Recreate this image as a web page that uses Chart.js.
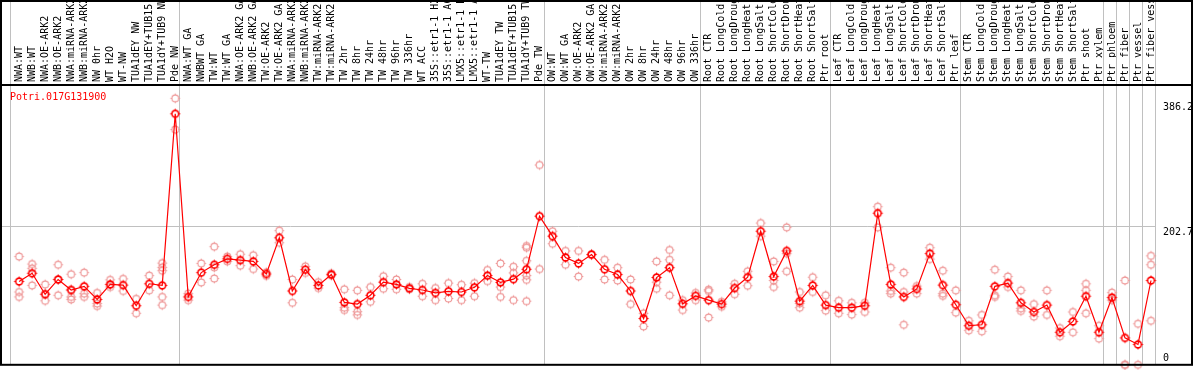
<!DOCTYPE html>
<html><head><meta charset="utf-8">
<style>html,body{margin:0;padding:0;background:#fff;}canvas{display:block;}</style>
<script src="https://cdn.jsdelivr.net/npm/chart.js@4.4.1/dist/chart.umd.min.js"></script>
</head><body>
<canvas id="c" width="1194" height="370"></canvas>
<script>
const geneLabel = 'Potri.017G131900';

const categories = [
  'NWA:WT','NWB:WT','NWA:OE-ARK2','NWB:OE-ARK2','NWA:miRNA-ARK2','NWB:miRNA-ARK2','NW 0hr','WT H2O','WT-NW','TUA1dEY NW','TUA1dEY+TUB15 NW','TUA1dY+TUB9 NW','Pde NW',
  'NWA:WT GA','NWBWT GA','TW:WT','TW:WT GA','NWA:OE-ARK2 GA','NWB:OE-ARK2 GA','TW:OE-ARK2','TW:OE-ARK2 GA','NWA:miRNA-ARK2','NWB:miRNA-ARK2','TW:miRNA-ARK2','TW:miRNA-ARK2','TW 2hr','TW 8hr','TW 24hr','TW 48hr','TW 96hr','TW 336hr','WT ACC','35S::etr1-1 H2O','35S::etr1-1 ACC','LMX5::etr1-1 H2O','LMX5::etr1-1 ACC','WT-TW','TUA1dEY TW','TUA1dEY+TUB15 TW','TUA1dY+TUB9 TW','Pde TW',
  'OW:WT','OW:WT GA','OW:OE-ARK2','OW:OE-ARK2 GA','OW:miRNA-ARK2','OW:miRNA-ARK2','OW 2hr','OW 8hr','OW 24hr','OW 48hr','OW 96hr','OW 336hr',
  'Root CTR','Root LongCold','Root LongDrought','Root LongHeat','Root LongSalt','Root ShortCold','Root ShortDrought','Root ShortHeat','Root ShortSalt','Ptr root',
  'Leaf CTR','Leaf LongCold','Leaf LongDrought','Leaf LongHeat','Leaf LongSalt','Leaf ShortCold','Leaf ShortDrought','Leaf ShortHeat','Leaf ShortSalt','Ptr leaf',
  'Stem CTR','Stem LongCold','Stem LongDrought','Stem LongHeat','Stem LongSalt','Stem ShortCold','Stem ShortDrought','Stem ShortHeat','Stem ShortSalt','Ptr shoot','Ptr xylem',
  'Ptr phloem','Ptr fiber','Ptr vessel','Ptr fiber vessel'
];

const groupSizes = [13, 28, 12, 10, 10, 11, 1, 1, 1, 1];

const means = [
  122.0, 134.0, 103.3, 124.9, 109.5, 114.8, 95.6, 117.7, 116.7, 86.5, 118.6, 116.2, 367.4,
  99.4, 135.0, 146.5, 155.1, 153.2, 151.3, 133.0, 185.9, 108.1, 139.3, 116.2, 132.1, 91.3, 88.9, 101.8, 121.0, 117.7, 111.9, 109.5, 105.2, 107.6, 106.6, 113.4, 130.6, 120.6, 125.4, 139.8, 217.6,
  188.3, 157.1, 148.4, 161.4, 139.8, 132.1, 108.1, 67.7, 127.8, 142.2, 89.3, 100.9,
  94.6, 88.9, 112.4, 128.2, 195.5, 129.2, 166.7, 93.2, 116.2, 87.4,
  83.6, 83.6, 86.5, 221.9, 117.7, 99.4, 111.0, 162.8, 116.7, 87.9,
  57.2, 58.6, 114.8, 119.6, 90.8, 77.3, 87.4, 47.6, 63.4, 100.4, 47.6,
  98.5, 39.4, 29.8, 123.4
];

const replicates = [
  [158.5,106.6,99.4],[147.5,141.2,116.2],[117.7,93.7,103.3],[146.5,101.8,124.9],[132.6,99.4,95.6,109.5],[135.0,104.2,99.4],[105.2,89.8,86.0],[124.4,113.8,117.7],[125.8,108.1],[96.5,75.4],[130.6,109.0],[148.9,142.6,137.8,99.4,87.4],[390.0,344.4],
  [104.2,94.6],[148.4,120.6],[172.9,142.6,126.3],[158.5,151.3],[161.9,145.1],[160.4,140.2],[135.4,130.2],[196.4,178.7],[124.9,90.8],[144.1,134.5],[121.0,112.4],[134.0,130.6],[110.5,83.6,80.2],[109.0,77.8,73.0],[113.8,92.2],[129.7,111.4],[124.9,110.5],[113.8,110.5],[118.6,100.4],[112.4,94.6],[119.6,97.0],[117.2,94.6],[119.6,100.4],[138.8,122.5],[148.4,113.8,99.4],[143.6,134.5,94.6],[173.9,171.5,152.3,130.6,124.4,93.2],[292.5,140.2],
  [195.5,177.2],[166.7,146.5],[166.7,129.2],[161.9,161.0],[153.7,124.9],[142.2,123.4],[124.9,88.9],[75.4,56.2],[151.3,121.0,111.4],[168.1,153.7,101.8],[94.6,80.2],[105.2,94.6],
  [110.0,108.1,69.2],[92.2,85.0],[118.6,103.3],[136.9,115.8],[207.5,188.3],[151.3,123.4,113.8],[201.2,162.8,136.9],[106.6,89.8,83.6],[128.2,106.6],[101.8,79.3],
  [93.7,75.4],[90.8,73.5],[90.8,77.3],[231.5,201.2],[142.2,108.1,104.2],[135.0,106.6,58.6],[115.3,104.2],[171.5,154.7],[137.8,104.2,100.9],[109.0,76.4],
  [64.4,50.4],[73.0,49.0],[139.3,101.8,99.4],[129.2,113.8],[109.0,82.6,78.8],[88.9,70.6],[109.0,73.0],[53.8,41.8],[77.3,47.6],[118.6,109.0,75.4],[57.2,38.4],
  [105.7,94.6],[123.4,0,0],[60.0,0],[159.5,146.5,64.4]
];

const yTicks = [0, 202.7, 386.2];
const yMax = 408.1;

function makeMarker(color, lw, r, tick) {
  const c = document.createElement('canvas');
  c.width = 13; c.height = 13;
  const g = c.getContext('2d');
  const m = 6.5;
  g.strokeStyle = color;
  g.lineWidth = lw;
  g.beginPath(); g.arc(m, m, r, 0, Math.PI * 2); g.stroke();
  g.lineWidth = 1;
  g.beginPath();
  g.moveTo(m, m - r - tick); g.lineTo(m, m - r);
  g.moveTo(m, m + r); g.lineTo(m, m + r + tick);
  g.moveTo(m - r - tick, m); g.lineTo(m - r, m);
  g.moveTo(m + r, m); g.lineTo(m + r + tick, m);
  g.stroke();
  return c;
}
const meanMarker = makeMarker('#ff0000', 1.6, 3.4, 1.6);
const repMarker = makeMarker('#ee9696', 1.1, 3.4, 1.4);

const meanData = means.map((v, i) => ({x: i, y: v}));
const repData = [];
replicates.forEach((arr, i) => arr.forEach(v => repData.push({x: i, y: v})));

const monoFont = {family: 'DejaVu Sans Mono', size: 10};

const framePlugin = {
  id: 'frame',
  beforeDatasetsDraw(chart) {
    const {ctx, chartArea, scales: {x, y}} = chart;
    const step = x.getPixelForValue(1) - x.getPixelForValue(0);
    const bounds = [0];
    let b = 0;
    groupSizes.forEach(s => { b += s; bounds.push(b); });
    ctx.save();
    ctx.strokeStyle = '#c0c0c0';
    ctx.lineWidth = 1;
    bounds.forEach(bi => {
      const px = Math.round(x.getPixelForValue(bi) - step * 9 / 13) + 0.5;
      ctx.beginPath(); ctx.moveTo(px, 0); ctx.lineTo(px, chartArea.bottom); ctx.stroke();
    });
    const gy = Math.round(y.getPixelForValue(yTicks[1])) + 0.5;
    const rightEnd = Math.round(x.getPixelForValue(categories.length) - step * 9 / 13) + 0.5;
    ctx.beginPath(); ctx.moveTo(2, gy); ctx.lineTo(rightEnd, gy); ctx.stroke();
    ctx.restore();
  },
  afterDraw(chart) {
    const {ctx, chartArea} = chart;
    ctx.save();
    ctx.strokeStyle = '#000';
    ctx.lineWidth = 2;
    ctx.strokeRect(1, 1, 1191, chartArea.bottom - 1);
    ctx.beginPath(); ctx.moveTo(0, chartArea.top - 1); ctx.lineTo(1192, chartArea.top - 1); ctx.stroke();
    ctx.fillStyle = '#ff0000';
    ctx.font = '10px "DejaVu Sans Mono"';
    ctx.textBaseline = 'middle';
    ctx.textAlign = 'left';
    ctx.fillText(geneLabel, 10, 97);
    ctx.restore();
  }
};

new Chart(document.getElementById('c'), {
  type: 'line',
  data: {
    datasets: [
      {label: geneLabel, data: meanData, borderColor: '#ff0000', borderWidth: 1.2, pointStyle: meanMarker, pointRadius: 4, tension: 0, order: 1, clip: false},
      {label: 'replicates', data: repData, showLine: false, pointStyle: repMarker, pointRadius: 4, order: 2, clip: false}
    ]
  },
  options: {
    responsive: false,
    animation: false,
    events: [],
    layout: {padding: {left: 12.6, right: 0, top: 0, bottom: 1}},
    plugins: {legend: {display: false}, tooltip: {enabled: false}},
    scales: {
      x: {
        type: 'linear', position: 'top', min: -0.5, max: categories.length - 0.5,
        grid: {display: false, drawTicks: false}, border: {display: false},
        afterBuildTicks: s => { s.ticks = categories.map((_, i) => ({value: i})); },
        afterFit: s => { s.height = 86; s.paddingLeft = 0; s.paddingRight = 0; s.paddingTop = 0; s.paddingBottom = 0; },
        ticks: {autoSkip: false, minRotation: 90, maxRotation: 90, padding: 4, labelOffset: 12, color: '#000', font: monoFont,
                callback: (v, i) => categories[i]}
      },
      y: {
        type: 'linear', position: 'right', min: 0, max: yMax,
        grid: {display: false, drawTicks: false}, border: {display: false},
        afterBuildTicks: s => { s.ticks = yTicks.map(v => ({value: v})); },
        afterFit: s => { s.width = 36.5; s.paddingTop = 0; s.paddingBottom = 0; s.paddingLeft = 0; s.paddingRight = 0; },
        ticks: {padding: 5.5, color: '#000', font: monoFont,
                callback: v => v === 0 ? ['0', ''] : ['', String(v)]}
      }
    }
  },
  plugins: [framePlugin]
});
</script>
</body></html>
